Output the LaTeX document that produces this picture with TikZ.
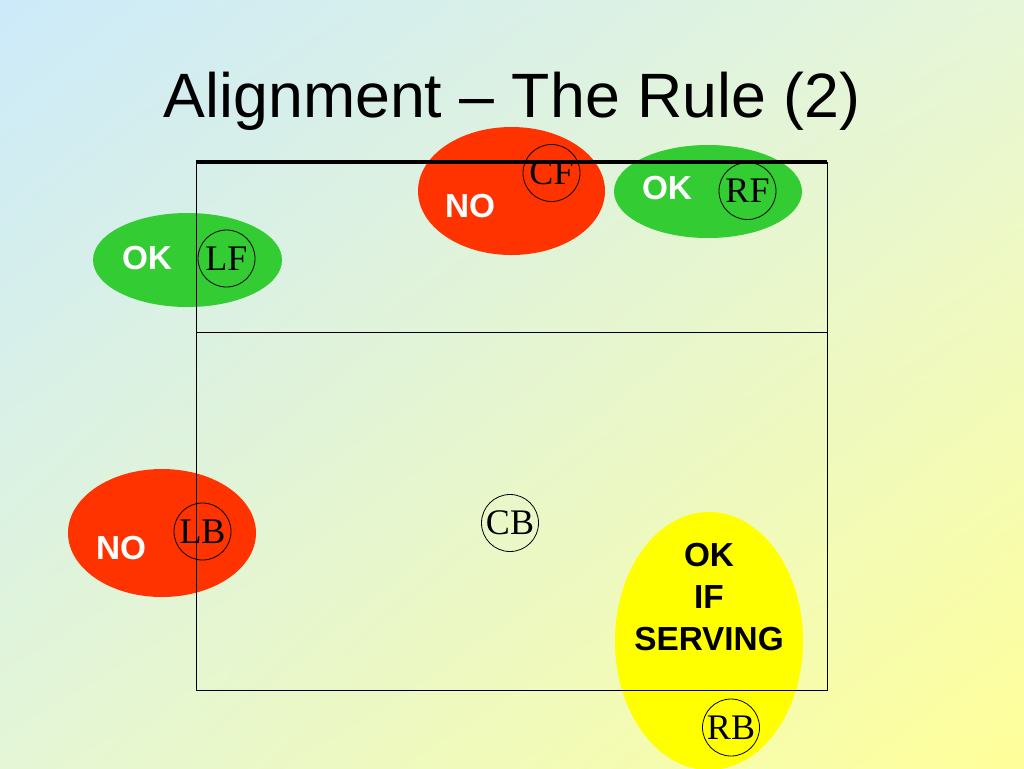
\documentclass[tikz,border=0pt]{standalone}
\usepackage{fontspec}
\setmainfont{Liberation Serif}
\setsansfont{Liberation Sans}
\usetikzlibrary{shapes.geometric,shadings}
\definecolor{bgTL}{HTML}{CCEAFA}
\definecolor{bgTR}{HTML}{E6F6D8}
\definecolor{bgBL}{HTML}{E4F6D6}
\definecolor{bgBR}{HTML}{FFFF99}
\definecolor{nored}{HTML}{FF3300}
\definecolor{okgreen}{HTML}{33CC33}
\definecolor{okyellow}{HTML}{FFFF00}
\tikzset{
  player/.style={circle, draw=black, line width=0.6pt, minimum size=42.75pt, inner sep=0pt, font=\fontsize{27}{27}\selectfont\rmfamily},
  verdict/.style={font=\fontsize{25}{25}\selectfont\sffamily\bfseries, text=white},
  court/.style={draw=black, line width=0.75pt},
}
\begin{document}
\begin{tikzpicture}[x=0.75pt,y=-0.75pt]
\useasboundingbox (0,0) rectangle (1024,768);
\shade[upper left=bgTL, upper right=bgTR, lower left=bgBL, lower right=bgBR] (0,0) rectangle (1024,768);
% title
\node[font=\fontsize{47}{47}\selectfont\sffamily, anchor=base] (title) at (512,117) {Alignment – The Rule (2)};
% zones
\fill[nored] (511.5,191) ellipse [x radius=93.5, y radius=64];
\fill[okgreen] (708,191.5) ellipse [x radius=94, y radius=46.5];
\fill[okgreen] (187.5,260) ellipse [x radius=94.5, y radius=47];
\fill[nored] (162,533) ellipse [x radius=94, y radius=64];
\fill[okyellow] (709,641) ellipse [x radius=94, y radius=129];
% court
\draw[court] (196,162) rectangle (827,690);
\draw[court] (196,332) -- (827,332);
\draw[black, line width=2.4pt] (196,162) -- (827,162);
% players
\node[player] (CF) at (551.5,173) {CF};
\node[player] (RF) at (747.5,191) {RF};
\node[player] (LF) at (226.5,258.5) {LF};
\node[player] (LB) at (202.5,531.5) {LB};
\node[player] (CB) at (510,523) {CB};
\node[player] (RB) at (731,727.5) {RB};
% verdicts
\node[verdict] (noCF) at (470,206) {NO};
\node[verdict] (okRF) at (667,188) {OK};
\node[verdict] (okLF) at (147,258) {OK};
\node[verdict] (noLB) at (121,548) {NO};
\node[verdict, text=black, align=center, font=\fontsize{25}{31.5}\selectfont\sffamily\bfseries] (okRB) at (709,597) {OK\\IF\\SERVING};
\end{tikzpicture}
\end{document}
